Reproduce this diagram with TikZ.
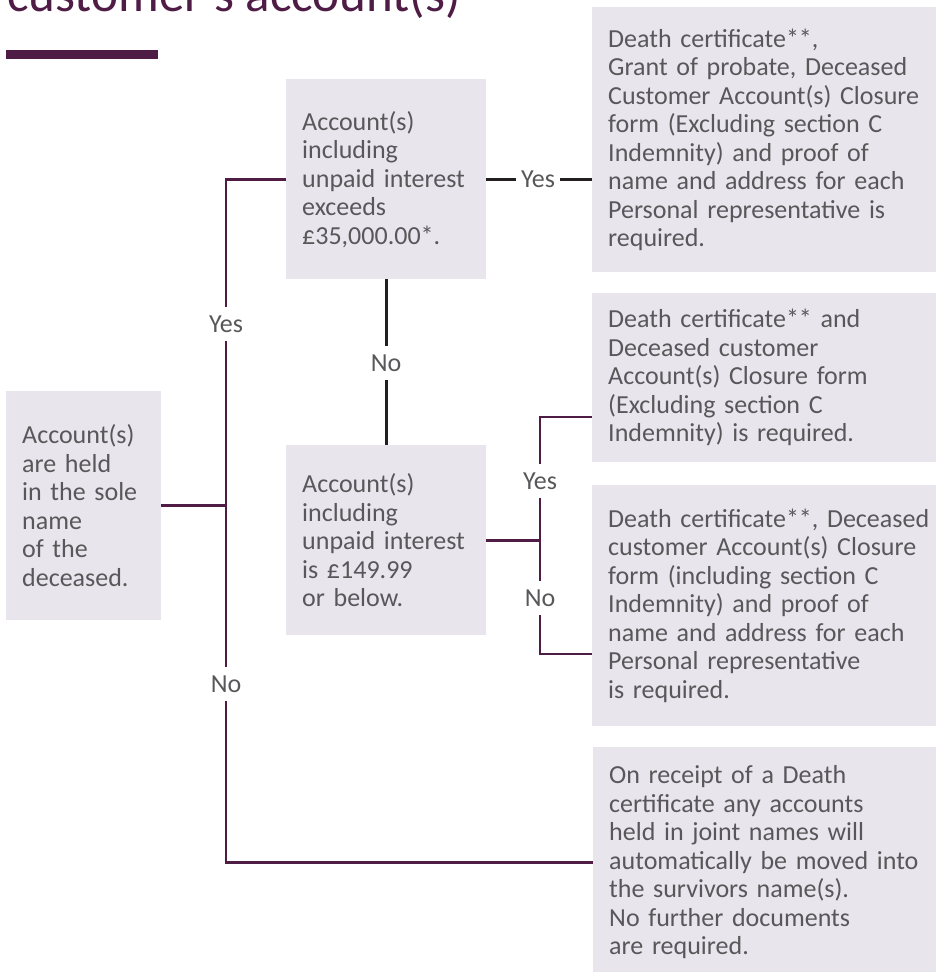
\documentclass[tikz,border=0pt]{standalone}
\usepackage{fontspec}
\setmainfont{Carlito}
\usetikzlibrary{positioning}
\definecolor{plum}{HTML}{4F1C45}
\definecolor{boxgrey}{HTML}{E8E5EC}
\definecolor{txtgrey}{HTML}{58585A}
\definecolor{inkblack}{HTML}{231F20}
\tikzset{
   infobox/.style={fill=boxgrey, text=txtgrey, align=left, anchor=north west,
      inner xsep=16pt, inner ysep=0pt, font=\fontsize{26}{28.5}\selectfont},
   link/.style={draw=plum, line width=2.6pt},
   qlink/.style={draw=inkblack, line width=2.6pt},
   answer/.style={fill=white, text=txtgrey, inner xsep=3pt, inner ysep=9pt,
      font=\fontsize{26}{28.5}\selectfont}
}
\begin{document}
\begin{tikzpicture}[x=1pt, y=-1pt]
   \useasboundingbox (0,0) rectangle (935,972);
   % heading
   \node[text=plum, font=\fontsize{51}{51}\selectfont, anchor=base west, inner sep=0pt]
      (title) at (7,11) {customer's account(s)};
   \fill[plum] (6,50) rectangle (158,59);
   % question boxes
   \node[infobox, text width=123pt, minimum height=229pt] (sole) at (6,391)
      {Account(s)\\are held\\in the sole\\name\\of the\\deceased.};
   \node[infobox, text width=168pt, minimum height=200pt] (big) at (286,79)
      {Account(s)\\including\\unpaid interest\\exceeds\\£35,000.00*.};
   \node[infobox, text width=168pt, minimum height=190pt] (small) at (286,445)
      {Account(s)\\including\\unpaid interest\\is £149.99\\or below.};
   % outcome boxes
   \node[infobox, text width=326pt, minimum height=265pt] (probate) at (592,7)
      {Death certificate**,\\Grant of probate, Deceased\\Customer Account(s) Closure\\form (Excluding section C\\Indemnity) and proof of\\name and address for each\\Personal representative is\\required.};
   \node[infobox, text width=326pt, minimum height=169pt] (noprobate) at (592,293)
      {Death certificate** and\\Deceased customer\\Account(s) Closure form\\(Excluding section C\\Indemnity) is required.};
   \node[infobox, text width=326pt, minimum height=241pt] (indemnity) at (592,485)
      {Death certificate**, Deceased\\customer Account(s) Closure\\form (including section C\\Indemnity) and proof of\\name and address for each\\Personal representative\\is required.};
   \node[infobox, text width=326pt, minimum height=230pt] (joint) at (593,747)
      {On receipt of a Death\\certificate any accounts\\held in joint names will\\automatically be moved into\\the survivors name(s).\\No further documents\\are required.};
   % connectors
   \coordinate (trunk) at (226,0);
   \coordinate (yesend) at (540,417);
   \coordinate (noend) at (540,654);
   \draw[link] (sole.east) -- (sole.east -| trunk);
   \draw[link] (big.west) -| (trunk |- joint.west) -- (joint.west);
   \draw[qlink] (big.east) -- (big.east -| probate.west);
   \draw[qlink] (big.south) -- (small.north);
   \draw[link] (small.east) -- (small.east -| yesend);
   \draw[link] (noprobate.west |- yesend) -- (yesend) -- (noend) -- (indemnity.west |- noend);
   % answers
   \foreach \x / \y / \t in {226/324/Yes, 226/684/No, 386/363/No, 540/481/Yes, 540/598/No} {
      \node[answer] (ans-\x-\y) at (\x,\y) {\t};
   }
   \node[answer, inner xsep=5.5pt, inner ysep=2pt] (ans-top) at (538,179) {Yes};
\end{tikzpicture}
\end{document}
